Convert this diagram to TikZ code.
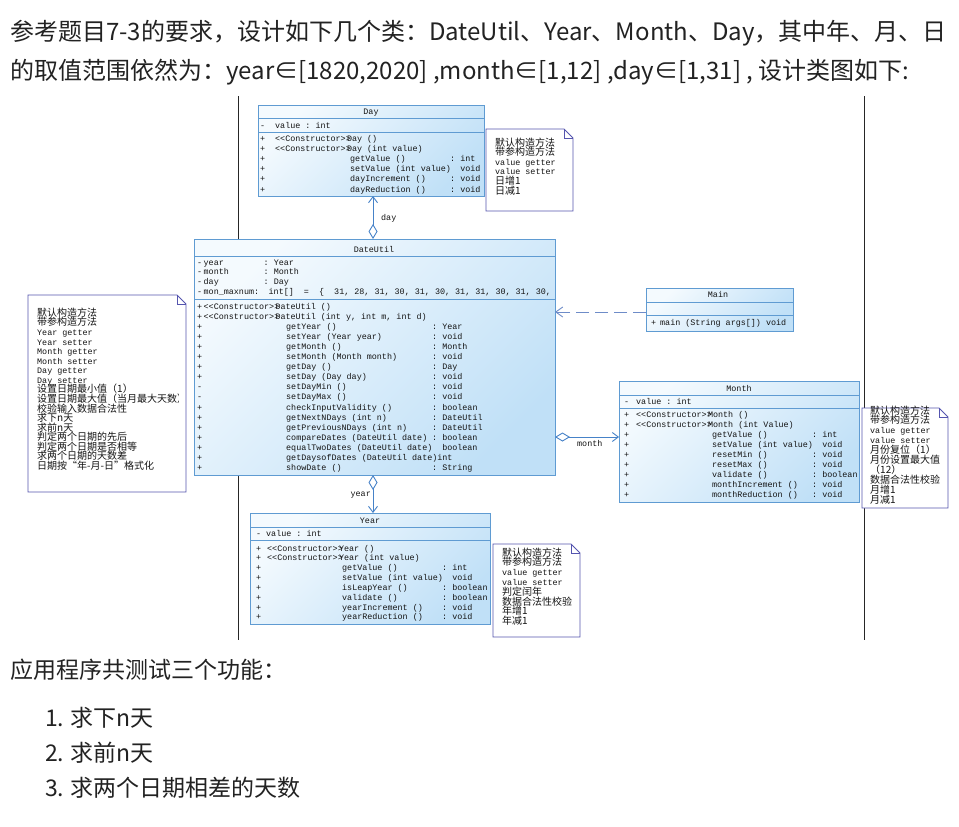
\documentclass[tikz,border=0pt]{standalone}
\usepackage{fontspec}
\setmainfont{Noto Sans CJK SC}
\setmonofont{Liberation Mono}
\newfontfamily\cjk{Noto Sans CJK SC}
\usetikzlibrary{arrows.meta}
\definecolor{clsborder}{RGB}{95,155,210}
\definecolor{clstop}{RGB}{244,250,254}
\definecolor{clsbot}{RGB}{192,224,247}
\definecolor{noteborder}{RGB}{85,85,175}
\definecolor{conn}{RGB}{70,130,200}
\definecolor{depc}{RGB}{110,140,200}
\definecolor{bodytext}{RGB}{34,34,34}
\definecolor{umltext}{RGB}{20,20,20}
\newcommand\cell[2]{\makebox[#1][l]{#2}}
\newcommand\ctor{<<Constructor>>\kern-0.45em}
\newcommand\lat[1]{{\ttfamily\fontsize{8.4}{10}\selectfont #1}}
\newcommand\dr[4]{\cell{15pt}{#1}\cell{75pt}{#2}\cell{100pt}{#3}#4}
\newcommand\ur[4]{\cell{6.5pt}{#1}\cell{82.5pt}{#2}\cell{146pt}{#3}#4}
\newcommand\mor[4]{\cell{12pt}{#1}\cell{76pt}{#2}\cell{100pt}{#3}#4}
\newcommand\yr[4]{\cell{11pt}{#1}\cell{75pt}{#2}\cell{100pt}{#3}#4}
\newcommand\notebox[5]{%
  \node[inner sep=0pt, outer sep=0pt, minimum width={(#4-#2)*1pt}, minimum height={(#5-#3)*1pt}, anchor=north west] (#1) at (#2,#3) {};
  \draw[notestyle] (#2,#3) -- (#4-9,#3) -- (#4,#3+9) -- (#4,#5) -- (#2,#5) -- cycle;
  \draw[notestyle, fill=none] (#4-9,#3) -- (#4-9,#3+9) -- (#4,#3+9);}
\tikzset{
  classbox/.style={draw=clsborder, line width=0.9pt, top color=clstop, bottom color=clsbot, shading angle=45, inner sep=0pt, outer sep=0pt, anchor=north west},
  divider/.style={draw=clsborder, line width=0.9pt},
  notestyle/.style={draw=noteborder, line width=0.9pt, fill=white},
  mrow/.style={anchor=base west, inner sep=0pt, text=umltext, font=\ttfamily\fontsize{8.4}{10}\selectfont},
  nrow/.style={anchor=base west, inner sep=0pt, text=umltext, font=\cjk\fontsize{10}{10}\selectfont},
  maintext/.style={anchor=west, inner sep=0pt, text=bodytext, font=\fontsize{23}{26}\selectfont},
  toptext/.style={maintext, font=\fontsize{24}{27}\selectfont},
  assoc/.style={draw=conn, line width=0.9pt, {Diamond[open, length=15pt, width=9pt]}-{Straight Barb[length=6pt, width=9pt]}},
  dep/.style={draw=depc, line width=0.9pt, dash pattern=on 13pt off 6pt, -{Straight Barb[length=7pt, width=10pt]}},
  sep/.style={draw=black!85, line width=1pt}
}
\begin{document}
\begin{tikzpicture}[x=1pt, y=-1pt]
\fill[white] (0,0) rectangle (959,827);
\useasboundingbox (0,0) rectangle (959,827);

% top text
\node[toptext] (line1) at (10,33) {参考题目7-3的要求，设计如下几个类：DateUtil、Year、Month、Day，其中年、月、日};
\node[toptext] (line2) at (10,72) {的取值范围依然为：year∈[1820,2020] ,month∈[1,12] ,day∈[1,31] , 设计类图如下:};

% vertical separators
\coordinate (sepLt) at (238,96);
\coordinate (sepLb) at (238,640);
\coordinate (sepRt) at (864,96);
\coordinate (sepRb) at (864,640);
\draw[sep] (sepLt) -- (sepLb);
\draw[sep] (sepRt) -- (sepRb);

% ---- Day ----
\node[classbox, minimum width=226pt, minimum height=91pt] (day) at (258,105) {};
\draw[divider] (258,118) -- (484,118);
\draw[divider] (258,132) -- (484,132);
\node[mrow, anchor=base] (daytitle) at (371,114) {Day};
\node[mrow] (dayattr) at (260,128) {\cell{15pt}{-}value : int};
\foreach \t [count=\i from 0] in {
  {\dr{+}{\ctor Day ()}{}{}},
  {\dr{+}{\ctor Day (int value)}{}{}},
  {\dr{+}{}{getValue ()}{: int}},
  {\dr{+}{}{setValue (int value)}{\phantom{:~}void}},
  {\dr{+}{}{dayIncrement ()}{: void}},
  {\dr{+}{}{dayReduction ()}{: void}}}
  {\node[mrow] (daym\i) at (260,{141+10.2*\i}) {\t};}

% ---- DateUtil ----
\node[classbox, minimum width=361pt, minimum height=236pt] (dateutil) at (194,239) {};
\draw[divider] (194,256) -- (555,256);
\draw[divider] (194,299) -- (555,299);
\node[mrow, anchor=base] (dutitle) at (374,252) {DateUtil};
\node[mrow] (dua0) at (197,265) {\cell{6.5pt}{-}\cell{60pt}{year}: Year};
\node[mrow] (dua1) at (197,274.7) {\cell{6.5pt}{-}\cell{60pt}{month}: Month};
\node[mrow] (dua2) at (197,284.4) {\cell{6.5pt}{-}\cell{60pt}{day}: Day};
\node[mrow] (dua3) at (197,294) {\cell{6.5pt}{-}\cell{65pt}{mon\_maxnum:}int[]~~=~~\{~~31,~28,~31,~30,~31,~30,~31,~31,~30,~31,~30,};
\foreach \t [count=\i from 0] in {
  {\ur{+}{\ctor DateUtil ()}{}{}},
  {\ur{+}{\ctor DateUtil (int y, int m, int d)}{}{}},
  {\ur{+}{}{getYear ()}{: Year}},
  {\ur{+}{}{setYear (Year year)}{: void}},
  {\ur{+}{}{getMonth ()}{: Month}},
  {\ur{+}{}{setMonth (Month month)}{: void}},
  {\ur{+}{}{getDay ()}{: Day}},
  {\ur{+}{}{setDay (Day day)}{: void}},
  {\ur{-}{}{setDayMin ()}{: void}},
  {\ur{-}{}{setDayMax ()}{: void}},
  {\ur{+}{}{checkInputValidity ()}{: boolean}},
  {\ur{+}{}{getNextNDays (int n)}{: DateUtil}},
  {\ur{+}{}{getPreviousNDays (int n)}{: DateUtil}},
  {\ur{+}{}{compareDates (DateUtil date)}{: boolean}},
  {\ur{+}{}{equalTwoDates (DateUtil date)}{\phantom{:~}boolean}},
  {\ur{+}{}{getDaysofDates (DateUtil date)int}{}},
  {\ur{+}{}{showDate ()}{: String}}}
  {\node[mrow] (dum\i) at (197,{309+10.1*\i}) {\t};}

% ---- Main ----
\node[classbox, minimum width=147pt, minimum height=43pt] (main) at (646,288) {};
\draw[divider] (646,302) -- (793,302);
\draw[divider] (646,315) -- (793,315);
\node[mrow, anchor=base] (maintitle) at (718,297) {Main};
\node[mrow] (mainm) at (651,325) {\cell{9pt}{+}main (String args[]) void};

% ---- Month ----
\node[classbox, minimum width=240pt, minimum height=121pt] (month) at (619,381) {};
\draw[divider] (619,395) -- (859,395);
\draw[divider] (619,408) -- (859,408);
\node[mrow, anchor=base] (monthtitle) at (739,391) {Month};
\node[mrow] (monthattr) at (624,404) {\cell{12pt}{-}value : int};
\foreach \t [count=\i from 0] in {
  {\mor{+}{\ctor Month ()}{}{}},
  {\mor{+}{\ctor Month (int Value)}{}{}},
  {\mor{+}{}{getValue ()}{: int}},
  {\mor{+}{}{setValue (int value)}{\phantom{:~}void}},
  {\mor{+}{}{resetMin ()}{: void}},
  {\mor{+}{}{resetMax ()}{: void}},
  {\mor{+}{}{validate ()}{: boolean}},
  {\mor{+}{}{monthIncrement ()}{: void}},
  {\mor{+}{}{monthReduction ()}{: void}}}
  {\node[mrow] (monthm\i) at (624,{417+10.1*\i}) {\t};}

% ---- Year ----
\node[classbox, minimum width=240pt, minimum height=111pt] (year) at (250,513) {};
\draw[divider] (250,527) -- (490,527);
\draw[divider] (250,540) -- (490,540);
\node[mrow, anchor=base] (yeartitle) at (370,523) {Year};
\node[mrow] (yearattr) at (256,536) {\cell{10pt}{-}value : int};
\foreach \t [count=\i from 0] in {
  {\yr{+}{\ctor Year ()}{}{}},
  {\yr{+}{\ctor Year (int value)}{}{}},
  {\yr{+}{}{getValue ()}{: int}},
  {\yr{+}{}{setValue (int value)}{\phantom{:~}void}},
  {\yr{+}{}{isLeapYear ()}{: boolean}},
  {\yr{+}{}{validate ()}{: boolean}},
  {\yr{+}{}{yearIncrement ()}{: void}},
  {\yr{+}{}{yearReduction ()}{: void}}}
  {\node[mrow] (yearm\i) at (256,{551+9.85*\i}) {\t};}

% ---- notes ----
\notebox{daynote}{486}{129}{573}{211}
\foreach \t [count=\i from 0] in {默认构造方法, 带参构造方法, \lat{value getter}, \lat{value setter}, 日增1, 日减1}
  {\node[nrow] (dayn\i) at (495,{146+9.6*\i}) {\t};}

\notebox{leftnote}{28}{295}{186}{492}
\begin{scope}
\clip (28,295) rectangle (178,492);
\foreach \t [count=\i from 0] in {默认构造方法, 带参构造方法, \lat{Year getter}, \lat{Year setter}, \lat{Month getter}, \lat{Month setter}, \lat{Day getter}, \lat{Day setter}, 设置日期最小值（1）, 设置日期最大值（当月最大天数）, 校验输入数据合法性, 求下n天, 求前n天, 判定两个日期的先后, 判定两个日期是否相等, 求两个日期的天数差, 日期按“年-月-日”格式化}
  {\node[nrow] (leftn\i) at (37,{316.4+9.56*\i}) {\t};}
\end{scope}

\notebox{monthnote}{862}{408}{948}{508}
\begin{scope}
\clip (862,400) rectangle (939,508);
\foreach \t [count=\i from 0] in {默认构造方法, 带参构造方法, \lat{value getter}, \lat{value setter}, 月份复位（1）, 月份设置最大值, （12）, 数据合法性校验, 月增1, 月减1}
  {\node[nrow] (monthn\i) at (870,{414+9.9*\i}) {\t};}
\end{scope}

\notebox{yearnote}{493}{544}{580}{637}
\begin{scope}
\clip (493,544) rectangle (571,637);
\foreach \t [count=\i from 0] in {默认构造方法, 带参构造方法, \lat{value getter}, \lat{value setter}, 判定闰年, 数据合法性校验, 年增1, 年减1}
  {\node[nrow] (yearn\i) at (502,{556+9.8*\i}) {\t};}
\end{scope}

% ---- connectors ----
\coordinate (vx) at (373,0);
\coordinate (depy) at (0,312);
\coordinate (monthy) at (0,437);
\draw[assoc] (dateutil.north -| vx) -- (day.south -| vx);
\draw[assoc] (dateutil.south -| vx) -- (year.north -| vx);
\draw[assoc] (dateutil.east |- monthy) -- (month.west |- monthy);
\draw[dep] (main.west |- depy) -- (dateutil.east |- depy);
\node[mrow] (daylbl) at (381,220) {day};
\node[mrow, anchor=base east] (yearlbl) at (371,496) {year};
\node[mrow] (monthlbl) at (577,446) {month};

% bottom text
\node[maintext] (apptext) at (10,670) {应用程序共测试三个功能：};
\node[maintext] (item1) at (45,718) {\makebox[25pt][l]{1.}求下n天};
\node[maintext] (item2) at (45,753) {\makebox[25pt][l]{2.}求前n天};
\node[maintext] (item3) at (45,788) {\makebox[25pt][l]{3.}求两个日期相差的天数};
\end{tikzpicture}
\end{document}
